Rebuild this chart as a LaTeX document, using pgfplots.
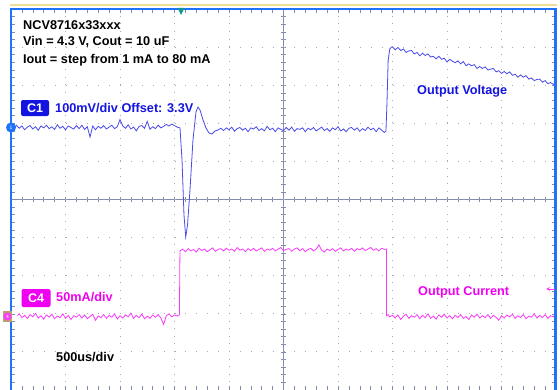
\documentclass[border=0pt]{standalone}
\usepackage{pgfplots}
\pgfplotsset{compat=1.18}
\usepackage{fontspec}
\setmainfont{Liberation Sans}
\definecolor{frameblue}{RGB}{30,115,250}
\definecolor{topyellow}{RGB}{240,222,150}
\definecolor{traceblue}{RGB}{75,75,235}
\definecolor{txtblue}{RGB}{20,20,225}
\definecolor{tracemag}{RGB}{250,60,250}
\definecolor{txtmag}{RGB}{240,0,240}
\definecolor{gridgray}{RGB}{165,170,185}
\definecolor{axgray}{RGB}{130,140,170}
\definecolor{trigteal}{RGB}{20,150,150}
\definecolor{tanbox}{RGB}{190,160,110}
\begin{document}
\begin{tikzpicture}[x=1bp,y=1bp]
\useasboundingbox (-11,1) rectangle (549,390);
\fill[white] (-11,1) rectangle (549,390);
% center axes
\draw[axgray, line width=0.7bp] (0,190.5) -- (545,190.5);
\draw[axgray, line width=0.7bp] (272.5,0) -- (272.5,381);
\foreach \i in {1,...,49} {
  \draw[axgray, line width=0.6bp] ({\i*10.9},188) -- ({\i*10.9},193);
  \draw[axgray, line width=0.6bp] (270,{\i*7.62}) -- (275,{\i*7.62});
}
\begin{axis}[at={(0,0)}, anchor=south west, scale only axis,
  width=545bp, height=381bp,
  xmin=-5, xmax=5, ymin=-5, ymax=5,
  axis line style={draw=none},
  xtick={-5,...,5}, ytick={-5,...,5},
  minor x tick num=4, minor y tick num=4,
  xticklabels={}, yticklabels={},
  major tick length=4bp, minor tick length=4bp,
  tick style={axgray, line width=0.6bp},
  grid=major,
  major x grid style={gridgray, line width=0.9bp, dash pattern=on 0.9bp off 6.72bp},
  major y grid style={gridgray, line width=0.9bp, dash pattern=on 0.9bp off 10bp},
]
\addplot[traceblue, line width=0.8bp] coordinates {
(-5.00,1.92)(-4.95,1.84)(-4.90,1.95)(-4.85,1.87)(-4.80,1.93)(-4.75,1.83)(-4.70,1.90)(-4.65,1.94)
(-4.60,1.85)(-4.55,1.91)(-4.50,1.82)(-4.45,1.93)(-4.40,1.88)(-4.35,1.95)(-4.30,1.86)(-4.25,1.91)
(-4.20,1.84)(-4.15,1.96)(-4.10,1.87)(-4.05,1.92)(-4.00,1.83)(-3.95,1.93)(-3.90,1.89)(-3.85,1.85)
(-3.80,1.94)(-3.75,1.86)(-3.70,1.95)(-3.65,1.84)(-3.60,1.91)(-3.55,1.64)(-3.50,1.93)(-3.45,1.83)
(-3.40,1.92)(-3.35,1.87)(-3.30,1.94)(-3.25,1.85)(-3.20,1.90)(-3.15,1.95)(-3.10,1.86)(-3.05,1.91)
(-3.00,2.10)(-2.95,1.93)(-2.90,1.87)(-2.85,1.96)(-2.80,1.85)(-2.75,1.90)(-2.70,1.80)(-2.65,1.92)
(-2.60,1.94)(-2.55,1.87)(-2.50,2.05)(-2.45,1.84)(-2.40,1.91)(-2.35,1.86)(-2.30,1.95)(-2.25,1.88)
(-2.20,1.92)(-2.15,1.97)(-2.10,1.93)(-2.05,1.98)(-2.00,1.94)(-1.95,1.90)
(-1.899,1.877)(-1.862,1.037)(-1.826,-0.407)(-1.794,-0.984)(-1.761,-0.669)(-1.716,0.249)
(-1.661,1.562)(-1.606,2.297)(-1.569,2.428)(-1.532,2.349)(-1.477,2.087)(-1.422,1.877)
(-1.367,1.745)(-1.312,1.719)(-1.257,1.798)(-1.202,1.824)
(-1.15,1.87)(-1.10,1.81)(-1.05,1.88)(-1.00,1.83)(-0.95,1.90)(-0.90,1.79)(-0.85,1.86)(-0.80,1.89)
(-0.75,1.82)(-0.70,1.87)(-0.65,1.78)(-0.60,1.88)(-0.55,1.85)(-0.50,1.91)(-0.45,1.81)(-0.40,1.86)
(-0.35,1.80)(-0.30,1.92)(-0.25,1.83)(-0.20,1.87)(-0.15,1.78)(-0.10,1.88)(-0.05,1.84)(0.00,1.81)
(0.05,1.89)(0.10,1.82)(0.15,1.90)(0.20,1.79)(0.25,1.86)(0.30,1.84)(0.35,1.88)(0.40,1.78)
(0.45,1.87)(0.50,1.83)(0.55,1.89)(0.60,1.80)(0.65,1.85)(0.70,1.90)(0.75,1.81)(0.80,1.86)
(0.85,1.79)(0.90,1.88)(0.95,1.83)(1.00,1.91)(1.05,1.80)(1.10,1.85)(1.15,1.78)(1.20,1.87)
(1.25,1.89)(1.30,1.82)(1.35,1.88)(1.40,1.79)(1.45,1.86)(1.50,1.81)(1.55,1.90)(1.60,1.83)
(1.65,1.87)(1.70,1.78)(1.75,1.88)(1.80,1.82)(1.85,1.76)(1.88,1.80)
(1.90,2.60)(1.92,3.65)(1.95,3.95)(1.98,4.00)
(2.00,4.00)(2.05,3.93)(2.10,3.99)(2.15,3.91)(2.20,3.95)(2.25,3.86)(2.30,3.90)(2.35,3.91)
(2.40,3.82)(2.45,3.86)(2.50,3.77)(2.55,3.84)(2.60,3.78)(2.65,3.82)(2.70,3.74)(2.75,3.76)
(2.80,3.69)(2.85,3.76)(2.90,3.68)(2.95,3.71)(3.00,3.61)(3.05,3.68)(3.10,3.63)(3.15,3.59)
(3.20,3.64)(3.25,3.56)(3.30,3.62)(3.35,3.51)(3.40,3.56)(3.45,3.51)(3.50,3.54)(3.55,3.44)
(3.60,3.49)(3.65,3.44)(3.70,3.48)(3.75,3.40)(3.80,3.42)(3.85,3.44)(3.90,3.35)(3.95,3.38)
(4.00,3.31)(4.05,3.36)(4.10,3.30)(4.15,3.35)(4.20,3.26)(4.25,3.29)(4.30,3.21)(4.35,3.27)
(4.40,3.21)(4.45,3.25)(4.50,3.16)(4.55,3.19)(4.60,3.12)(4.65,3.15)(4.70,3.16)(4.75,3.08)
(4.80,3.12)(4.85,3.04)(4.90,3.07)(4.95,3.02)(5.00,3.06)
};
\addplot[tracemag, line width=0.8bp] coordinates {
(-4.88,-3.05)(-4.85,-3.00)(-4.80,-3.10)(-4.75,-3.04)(-4.70,-3.12)(-4.65,-3.02)(-4.60,-3.08)(-4.55,-2.99)
(-4.50,-3.11)(-4.45,-3.05)(-4.40,-3.14)(-4.35,-3.03)(-4.30,-3.09)(-4.25,-3.01)(-4.20,-3.13)(-4.15,-3.06)
(-4.10,-3.10)(-4.05,-3.00)(-4.00,-3.12)(-3.95,-3.04)(-3.90,-3.15)(-3.85,-3.05)(-3.80,-3.09)(-3.75,-3.02)
(-3.70,-3.11)(-3.65,-3.03)(-3.60,-3.13)(-3.55,-3.07)(-3.50,-3.01)(-3.45,-3.17)(-3.40,-3.06)(-3.35,-3.10)
(-3.30,-3.02)(-3.25,-3.12)(-3.20,-3.04)(-3.15,-3.09)(-3.10,-3.00)(-3.05,-3.14)(-3.00,-3.05)(-2.95,-3.11)
(-2.90,-3.03)(-2.85,-3.08)(-2.80,-2.98)(-2.75,-3.12)(-2.70,-3.04)(-2.65,-3.10)(-2.60,-3.01)(-2.55,-3.13)
(-2.50,-3.06)(-2.45,-3.12)(-2.40,-3.03)(-2.35,-3.09)(-2.30,-3.02)(-2.25,-3.11)(-2.20,-3.28)(-2.15,-3.05)
(-2.10,-3.00)(-2.05,-3.08)(-2.00,-3.03)(-1.95,-3.06)(-1.91,-3.02)
(-1.90,-1.35)(-1.85,-1.30)(-1.80,-1.37)(-1.75,-1.29)(-1.70,-1.35)(-1.65,-1.31)(-1.60,-1.38)(-1.55,-1.28)
(-1.50,-1.34)(-1.45,-1.30)(-1.40,-1.37)(-1.35,-1.32)(-1.30,-1.27)(-1.25,-1.36)(-1.20,-1.31)(-1.15,-1.29)
(-1.10,-1.35)(-1.05,-1.28)(-1.00,-1.33)(-0.95,-1.30)(-0.90,-1.36)(-0.85,-1.26)(-0.80,-1.33)(-0.75,-1.30)
(-0.70,-1.37)(-0.65,-1.29)(-0.60,-1.34)(-0.55,-1.28)(-0.50,-1.35)(-0.45,-1.31)(-0.40,-1.27)(-0.35,-1.36)
(-0.30,-1.30)(-0.25,-1.33)(-0.20,-1.28)(-0.15,-1.35)(-0.10,-1.30)(-0.05,-1.26)(0.00,-1.34)(0.05,-1.31)
(0.10,-1.29)(0.15,-1.36)(0.20,-1.30)(0.25,-1.27)(0.30,-1.34)(0.35,-1.29)(0.40,-1.37)(0.45,-1.31)
(0.50,-1.28)(0.55,-1.35)(0.60,-1.30)(0.65,-1.19)(0.70,-1.33)(0.75,-1.38)(0.80,-1.30)(0.85,-1.34)
(0.90,-1.29)(0.95,-1.36)(1.00,-1.31)(1.05,-1.27)(1.10,-1.35)(1.15,-1.30)(1.20,-1.33)(1.25,-1.28)
(1.30,-1.36)(1.35,-1.29)(1.40,-1.32)(1.45,-1.27)(1.50,-1.34)(1.55,-1.30)(1.60,-1.26)(1.65,-1.33)
(1.70,-1.29)(1.75,-1.35)(1.80,-1.28)(1.85,-1.31)(1.89,-1.30)
(1.89,-3.05)(1.92,-3.02)(1.95,-3.08)(2.00,-3.04)(2.05,-3.11)(2.10,-3.03)(2.15,-3.15)(2.20,-3.06)
(2.25,-3.01)(2.30,-3.12)(2.35,-3.05)(2.40,-3.09)(2.45,-3.02)(2.50,-3.13)(2.55,-3.04)(2.60,-3.10)
(2.65,-3.00)(2.70,-3.12)(2.75,-3.06)(2.80,-3.14)(2.85,-3.03)(2.90,-3.09)(2.95,-3.01)(3.00,-3.11)
(3.05,-3.05)(3.10,-3.13)(3.15,-3.04)(3.20,-3.10)(3.25,-3.02)(3.30,-3.12)(3.35,-3.07)(3.40,-3.15)
(3.45,-3.03)(3.50,-3.09)(3.55,-3.01)(3.60,-3.11)(3.65,-3.05)(3.70,-3.10)(3.75,-3.02)(3.80,-3.12)
(3.85,-3.04)(3.90,-3.09)(3.95,-3.17)(4.00,-3.05)(4.05,-3.11)(4.10,-3.03)(4.15,-3.08)(4.20,-3.01)
(4.25,-3.12)(4.30,-3.05)(4.35,-3.10)(4.40,-3.02)(4.45,-3.13)(4.50,-3.06)(4.55,-3.09)(4.60,-3.00)
(4.65,-3.11)(4.70,-3.04)(4.75,-3.10)(4.80,-3.02)(4.85,-3.12)(4.90,-3.05)(4.95,-3.08)(5.00,-3.03)
};
\end{axis}
% frame
\draw[topyellow, line width=2bp] (-1,385) -- (546,385);
\draw[frameblue, line width=2.5bp] (0,-2) -- (0,381) -- (544.5,381) -- (544.5,-2);
% trigger marker
\fill[trigteal] (166.5,382) -- (173.5,382) -- (170,375) -- cycle;
% channel markers
\fill[frameblue] (0,262.5) circle (5bp);
\node[text=white, font=\fontsize{5bp}{5bp}\selectfont, inner sep=0] at (0,262.5) {1};
\fill[tanbox] (-8,68) rectangle (1,79);
\fill[tracemag] (-3.5,73.5) circle (4bp);
\node[text=white, font=\fontsize{5bp}{5bp}\selectfont, inner sep=0] at (-3.5,73.5) {4};
\draw[tracemag, line width=0.8bp, ->, >=stealth] (544,101) -- (535,101);
% texts
\begin{scope}[every node/.style={anchor=west, inner sep=0, font=\bfseries\fontsize{12.7bp}{14bp}\selectfont}]
\node at (12,365) {NCV8716x33xxx};
\node at (12,348) {Vin = 4.3 V, Cout = 10 uF};
\node at (12,330) {Iout = step from 1 mA to 80 mA};
\node[text=txtblue] at (44,282) {100mV/div Offset: 3.3V};
\node[text=txtblue] at (406,299) {Output Voltage};
\node[text=txtmag] at (45,93) {50mA/div};
\node[text=txtmag] at (407,98) {Output Current};
\node at (45,33) {500us/div};
\end{scope}
\node[fill=txtblue, rounded corners=2bp, text=white, minimum width=28bp, minimum height=16bp, inner sep=0, font=\bfseries\fontsize{12.5bp}{13bp}\selectfont] at (24,282) {C1};
\node[fill=txtmag, rounded corners=2bp, text=white, minimum width=29bp, minimum height=18bp, inner sep=0, font=\bfseries\fontsize{12.5bp}{13bp}\selectfont] at (25,92) {C4};
\end{tikzpicture}
\end{document}
